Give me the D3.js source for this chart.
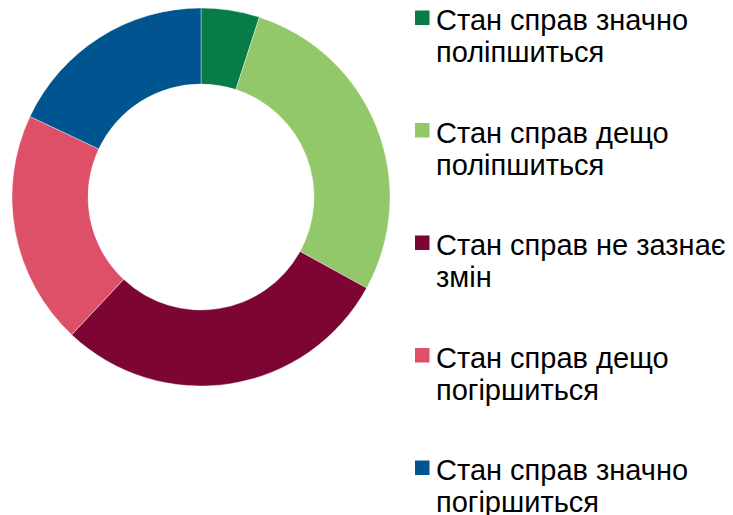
<html lang="uk">
<head>
    <meta charset="UTF-8">
    <title>Donut</title>
    <style>
        body { margin: 0; background: #fff; }
    </style>
</head>
<body>
    <div id="chart"></div>
    <script src="https://d3js.org/d3.v7.min.js"></script>
    <script>
        // data
        var categories = [
            ["Стан справ значно", "поліпшиться"],
            ["Стан справ дещо", "поліпшиться"],
            ["Стан справ не зазнає", "змін"],
            ["Стан справ дещо", "погіршиться"],
            ["Стан справ значно", "погіршиться"]
        ];
        var values = [5, 28, 29, 20, 18];
        var colors = ["#077c47", "#93c86a", "#7c0533", "#dd5068", "#005590"];

        var width = 733,
            height = 515;

        var svg = d3.select("#chart").append("svg")
            .attr("width", width)
            .attr("height", height);

        var data = values.map(function(v, i) {
            return { value: v, label: categories[i], color: colors[i] };
        });

        var pie = d3.pie()
            .sort(null)
            .value(function(d) { return d.value; });

        var arc = d3.arc()
            .innerRadius(113)
            .outerRadius(189);

        // donut
        var g = svg.append("g")
            .attr("transform", "translate(201,197)");

        g.selectAll("path")
            .data(pie(data))
            .enter().append("path")
            .attr("d", arc)
            .attr("fill", function(d) { return d.data.color; })
            .attr("stroke", "#fff")
            .attr("stroke-width", 0.4);

        // legend
        var legend = svg.selectAll(".legend")
            .data(data)
            .enter().append("g")
            .attr("class", "legend")
            .attr("transform", function(d, i) {
                return "translate(415," + (30 + i * 112.5) + ")";
            });

        legend.append("rect")
            .attr("x", 0)
            .attr("y", -19.5)
            .attr("width", 14.5)
            .attr("height", 14.5)
            .attr("fill", function(d) { return d.color; });

        var txt = legend.append("text")
            .attr("font-family", "Arial, 'Liberation Sans', sans-serif")
            .attr("font-size", 29)
            .attr("fill", "#000");

        txt.selectAll("tspan")
            .data(function(d) { return d.label; })
            .enter().append("tspan")
            .attr("x", 21)
            .attr("y", function(d, i) { return i * 32; })
            .text(function(d) { return d; });
    </script>
</body>
</html>
